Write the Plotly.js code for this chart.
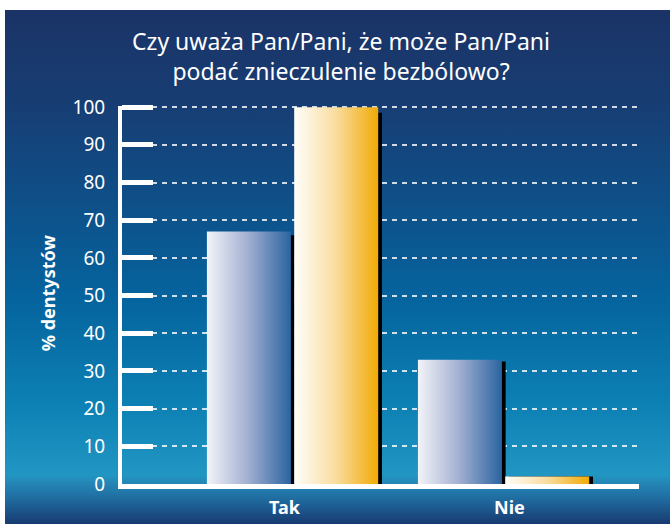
<!DOCTYPE html>
<html><head><meta charset="utf-8">
<script src="https://cdn.plot.ly/plotly-3.0.1.min.js"></script>
<style>
html,body{margin:0;padding:0;background:#fff;width:670px;height:524px;overflow:hidden}
#bg{position:absolute;left:5px;top:10px;width:665px;height:514px;
background:linear-gradient(to bottom,#1b3366 0%,#173d73 17.5%,#0f4f88 37%,#05649e 56.4%,#0c7fb3 75.9%,#2196c3 90.5%,#2586b6 92%,#1f6a9e 95.3%,#183a70 100%)}
#chart{position:absolute;left:0;top:0;width:670px;height:524px}
</style></head><body>
<svg width="0" height="0" style="position:absolute">
<defs>
<linearGradient id="gBlue" x1="0" y1="0" x2="1" y2="0">
<stop offset="0" stop-color="#f3f4f9"/><stop offset="0.5" stop-color="#a0aed0"/><stop offset="1" stop-color="#2a64a0"/>
</linearGradient>
<linearGradient id="gYellow" x1="0" y1="0" x2="1" y2="0">
<stop offset="0" stop-color="#fffefa"/><stop offset="0.5" stop-color="#f9dc9e"/><stop offset="1" stop-color="#f1aa05"/>
</linearGradient>
</defs></svg>
<div id="bg"></div>
<div id="chart"></div>
<script>
const categories = ['Tak', 'Nie'];
const seriesBlue = [67, 33];
const seriesYellow = [100, 2];
const yTickValues = [0, 10, 20, 30, 40, 50, 60, 70, 80, 90, 100];
const chartTitle = 'Czy uważa Pan/Pani, że może Pan/Pani<br>podać znieczulenie bezbólowo?';
const yTitle = '% dentystów';

const FONT = 'Noto Sans, Open Sans, sans-serif';
const shadowOf = v => v.map(x => x * 0.985);

const common = {type: 'bar', x: categories, hoverinfo: 'skip', marker: {line: {width: 0}}};
const data = [
  Object.assign({}, common, {y: shadowOf(seriesBlue), offset: -0.39, width: 0.398, marker: {color: '#000', line: {width: 0}}}),
  Object.assign({}, common, {y: shadowOf(seriesYellow), offset: 0.024, width: 0.398, marker: {color: '#000', line: {width: 0}}}),
  Object.assign({}, common, {y: seriesBlue, offset: -0.4076, width: 0.398, marker: {color: '#8a9cc6', line: {width: 0}}}),
  Object.assign({}, common, {y: seriesYellow, offset: 0.006, width: 0.398, marker: {color: '#f5c860', line: {width: 0}}})
];

const annotations = categories.map((c, i) => ({
  xref: 'x', yref: 'paper', x: c, y: -0.06, xshift: i === 0 ? -8 : 6,
  text: '<b>' + c + '</b>', showarrow: false, yanchor: 'middle',
  font: {family: FONT, size: 18, color: '#fff'}
}));
annotations.push({
  xref: 'paper', yref: 'paper', x: -0.143, y: 0.505, textangle: -90,
  text: '<b>' + yTitle + '</b>', showarrow: false, xanchor: 'center', yanchor: 'middle',
  font: {family: FONT, size: 18, color: '#fff'}
});

const layout = {
  width: 670, height: 524,
  margin: {l: 122, r: 31, t: 106.2, b: 39.5},
  paper_bgcolor: 'rgba(0,0,0,0)', plot_bgcolor: 'rgba(0,0,0,0)',
  barmode: 'overlay', showlegend: false,
  title: {text: chartTitle, x: 0.509, xanchor: 'center', yref: 'container', y: 0.904, yanchor: 'middle',
          font: {family: FONT, size: 23, color: '#fff'}},
  xaxis: {type: 'category', range: [-0.81, 1.64], showticklabels: false, ticks: '',
          showline: true, linecolor: '#fff', linewidth: 5, showgrid: false, zeroline: false, fixedrange: true},
  yaxis: {range: [0, 100.3], tickvals: yTickValues, ticks: 'inside', ticklen: 31, tickwidth: 5, tickcolor: '#fff',
          showline: true, linecolor: '#fff', linewidth: 4, zeroline: false,
          showgrid: true, gridcolor: 'rgba(255,255,255,0.8)', gridwidth: 2, griddash: '5px,5px',
          ticklabelstandoff: 9, tickfont: {family: FONT, size: 19, color: '#fff'}, fixedrange: true},
  annotations: annotations
};

Plotly.newPlot('chart', data, layout, {displayModeBar: false, staticPlot: true}).then(gd => {
  const traces = gd.querySelectorAll('.barlayer .trace');
  const fills = [null, null, 'url(#gBlue)', 'url(#gYellow)'];
  traces.forEach((t, i) => {
    if (fills[i]) t.querySelectorAll('path').forEach(p => { p.style.fill = fills[i]; });
  });
});
</script>
</body></html>
